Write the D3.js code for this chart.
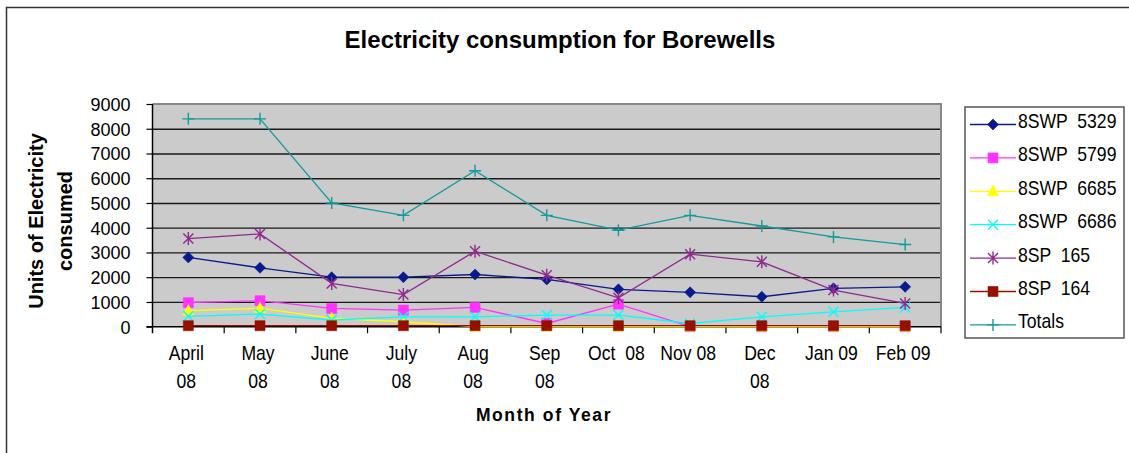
<!DOCTYPE html>
<html>
<head>
<meta charset="utf-8">
<script src="https://cdn.jsdelivr.net/npm/d3@7"></script>
<style>
  html, body { margin: 0; padding: 0; background: #fff; }
  svg { display: block; font-family: "Liberation Sans", Arial, sans-serif; }
</style>
</head>
<body>
<svg id="chart" width="1129" height="453"></svg>
<script>
// Monthly electricity units per borewell pump, April 2008 – February 2009
const months = ["April 08", "May 08", "June 08", "July 08", "Aug 08", "Sep 08",
                "Oct 08", "Nov 08", "Dec 08", "Jan 09", "Feb 09"];
const tickLabels = [["April", "08"], ["May", "08"], ["June", "08"], ["July", "08"],
                    ["Aug", "08"], ["Sep", "08"], ["Oct  08"], ["Nov 08"],
                    ["Dec", "08"], ["Jan 09"], ["Feb 09"]];
const yTicks = [0, 1000, 2000, 3000, 4000, 5000, 6000, 7000, 8000, 9000];

const swp5329 = [2800, 2380, 2000, 2000, 2110, 1910, 1510, 1390, 1210, 1550, 1610];
const swp5799 = [970, 1050, 740, 670, 780, 130, 910, 0, 0, 0, 0];
const swp6685 = [650, 750, 340, 200, 0, 0, 0, 0, 0, 0, 0];
const swp6686 = [420, 510, 270, 400, 400, 470, 470, 130, 400, 600, 780];
const sp165   = [3560, 3750, 1750, 1300, 3050, 2080, 1170, 2930, 2620, 1480, 940];
const sp164   = [40, 40, 40, 40, 40, 40, 40, 40, 40, 40, 40];
const totals  = [8400, 8400, 5000, 4500, 6300, 4500, 3900, 4500, 4070, 3630, 3320];

const seriesNames = ["8SWP  5329", "8SWP  5799", "8SWP  6685", "8SWP  6686", "8SP  165", "8SP  164", "Totals"];
const seriesValues = [swp5329, swp5799, swp6685, swp6686, sp165, sp164, totals];
const seriesColors = ["#0a1a8c", "#ff33ff", "#ffff00", "#00ffff", "#8e2a8e", "#961000", "#139a9a"];
const seriesMarkers = ["diamond", "square", "triangle", "x", "asterisk", "square", "plus"];

// marker outlines, centred on the point
function markerPath(kind) {
  switch (kind) {
    case "diamond":  return "M0,-5.5L5.5,0L0,5.5L-5.5,0Z";
    case "square":   return "M-5,-5H5V5H-5Z";
    case "triangle": return "M0,-6L5.5,4.5L-5.5,4.5Z";
    case "x":        return "M-5,-5L5,5M5,-5L-5,5";
    case "asterisk": return "M-5,-5L5,5M5,-5L-5,5M0,-6.5V6.5";
    case "plus":     return "M-6,0H6M0,-6V6";
  }
}
const strokeMarkers = new Set(["x", "asterisk", "plus"]);

const svg = d3.select("#chart");

// outer chart frame (continues past the right and bottom edges)
svg.append("rect").attr("x", 6.5).attr("y", 7.5).attr("width", 1200).attr("height", 500)
  .attr("fill", "none").attr("stroke", "#333").attr("stroke-width", 1.5);

svg.append("text").attr("x", 560).attr("y", 48).attr("text-anchor", "middle")
  .attr("font-size", 24).attr("font-weight", "bold").text("Electricity consumption for Borewells");

const plot = { left: 152.5, right: 941, top: 104, bottom: 326.7 };

const x = d3.scaleBand().domain(months).range([plot.left, plot.right]);
const y = d3.scaleLinear().domain([0, 9000]).range([plot.bottom, plot.top]);

// plot background
svg.append("rect").attr("x", plot.left).attr("y", plot.top)
  .attr("width", plot.right - plot.left).attr("height", plot.bottom - plot.top)
  .attr("fill", "#cbcbcb");

// horizontal gridlines
const grid = svg.append("g").attr("transform", `translate(${plot.left},0)`)
  .call(d3.axisLeft(y).tickValues(yTicks.slice(1, -1)).tickSize(-(plot.right - plot.left)).tickFormat(""));
grid.select(".domain").remove();
grid.selectAll("line").attr("stroke", "#1a1a1a").attr("stroke-width", 1.3);

// top and right plot border
svg.append("path")
  .attr("d", `M${plot.left},${plot.top}H${plot.right}V${plot.bottom}`)
  .attr("fill", "none").attr("stroke", "#888").attr("stroke-width", 2);

// y axis with labels
const yAxis = svg.append("g").attr("transform", `translate(${plot.left},0)`)
  .call(d3.axisLeft(y).tickValues(yTicks).tickFormat(d3.format("d"))
    .tickSize(6).tickPadding(16).tickSizeOuter(0));
yAxis.select(".domain").remove();
yAxis.selectAll("line").attr("stroke", "#000").attr("stroke-width", 1.2);
yAxis.selectAll("text").attr("font-size", 18).attr("fill", "#000")
  .attr("font-family", "'Liberation Sans', Arial, sans-serif").attr("dy", "0.36em");
svg.append("line").attr("x1", plot.left).attr("x2", plot.left)
  .attr("y1", plot.top).attr("y2", plot.bottom + 6.5).attr("stroke", "#000").attr("stroke-width", 1.5);

// x axis line and tick marks at category boundaries
svg.append("line").attr("x1", plot.left - 6).attr("x2", plot.right)
  .attr("y1", plot.bottom).attr("y2", plot.bottom).attr("stroke", "#000").attr("stroke-width", 1.5);
const bounds = months.map(m => x(m)).concat([x(months[months.length - 1]) + x.bandwidth()]);
svg.append("g").selectAll("line").data(bounds.slice(1)).join("line")
  .attr("x1", d => d).attr("x2", d => d)
  .attr("y1", plot.bottom).attr("y2", plot.bottom + 6.5)
  .attr("stroke", "#000").attr("stroke-width", 1.2);

// category labels, some split over two lines
const xl = svg.append("g").selectAll("text").data(months).join("text")
  .attr("transform", (m) => `translate(${x(m) + x.bandwidth() / 2 - 2},360) scale(0.88,1)`)
  .attr("text-anchor", "middle").attr("font-size", 20);
xl.each(function (m, i) {
  const t = d3.select(this);
  tickLabels[i].forEach((line, k) => {
    t.append("tspan").attr("x", 0).attr("y", k * 28).attr("xml:space", "preserve").text(line);
  });
});

// axis titles
svg.append("text").attr("transform", "translate(43,221) rotate(-90)")
  .attr("text-anchor", "middle").attr("font-size", 20).attr("font-weight", "bold")
  .text("Units of Electricity");
svg.append("text").attr("transform", "translate(72,221) rotate(-90)")
  .attr("text-anchor", "middle").attr("font-size", 20).attr("font-weight", "bold")
  .text("consumed");
svg.append("text").attr("x", 544).attr("y", 421).attr("text-anchor", "middle")
  .attr("font-size", 17.5).attr("font-weight", "bold").attr("letter-spacing", 1.6)
  .text("Month of Year");

// series lines and markers
const line = d3.line().x((d, i) => x(months[i]) + x.bandwidth() / 2).y(d => y(d));
seriesValues.forEach((vals, s) => {
  const g = svg.append("g");
  g.append("path").attr("d", line(vals)).attr("fill", "none")
    .attr("stroke", seriesColors[s]).attr("stroke-width", 1.3);
  const isStroke = strokeMarkers.has(seriesMarkers[s]);
  g.selectAll("path.m").data(vals).join("path").attr("class", "m")
    .attr("transform", (d, i) => `translate(${x(months[i]) + x.bandwidth() / 2},${y(d)})`)
    .attr("d", markerPath(seriesMarkers[s]))
    .attr("fill", isStroke ? "none" : seriesColors[s])
    .attr("stroke", seriesColors[s]).attr("stroke-width", isStroke ? 1.4 : 0.6);
});

// legend
const legend = svg.append("g");
legend.append("rect").attr("x", 965).attr("y", 107).attr("width", 159).attr("height", 231)
  .attr("fill", "#fff").attr("stroke", "#555").attr("stroke-width", 1.5);
seriesNames.forEach((name, s) => {
  const base = 128 + s * 33.4;
  const ly = base - 3.5;
  legend.append("line").attr("x1", 970).attr("x2", 1016).attr("y1", ly).attr("y2", ly)
    .attr("stroke", seriesColors[s]).attr("stroke-width", 1.3);
  const isStroke = strokeMarkers.has(seriesMarkers[s]);
  legend.append("path").attr("transform", `translate(993,${ly})`)
    .attr("d", markerPath(seriesMarkers[s]))
    .attr("fill", isStroke ? "none" : seriesColors[s])
    .attr("stroke", seriesColors[s]).attr("stroke-width", isStroke ? 1.4 : 0.6);
  legend.append("text").attr("transform", `translate(1018,${base}) scale(0.88,1)`)
    .attr("font-size", 20).attr("xml:space", "preserve").text(name);
});
</script>
</body>
</html>
